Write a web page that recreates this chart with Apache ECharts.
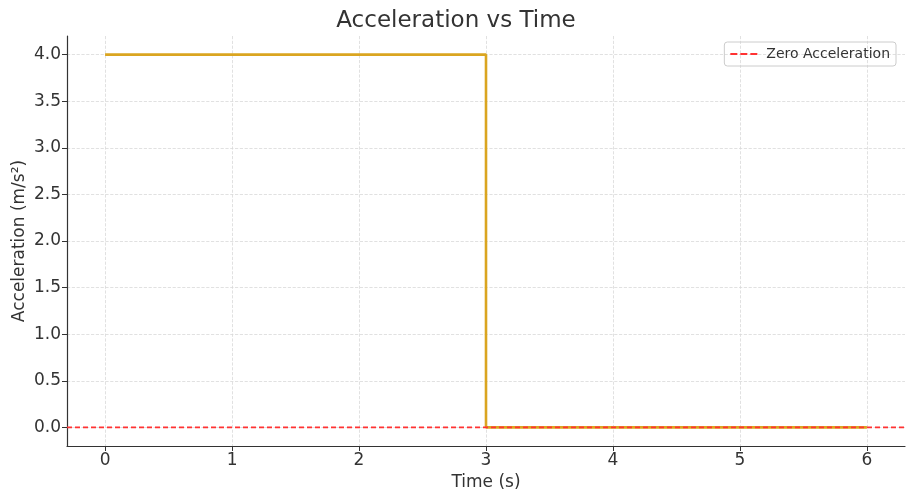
<!DOCTYPE html>
<html><head><meta charset="utf-8">
<script src="https://cdn.jsdelivr.net/npm/echarts@6/dist/echarts.min.js"></script>
<style>html,body{margin:0;padding:0;background:#fff}#c{width:912px;height:493px}</style>
</head><body><div id="c"></div>
<script>
const times = [0, 3, 3, 6];
const accel = [4, 4, 0, 0];
const zeroX = [-0.3, 6.3];
const zeroY = [0, 0];
const xTicks = [0, 1, 2, 3, 4, 5, 6];
const yTicks = [0, 0.5, 1, 1.5, 2, 2.5, 3, 3.5, 4];

const chart = echarts.init(document.getElementById('c'));
const font = 'DejaVu Sans';
chart.setOption({
  animation: false,
  title: {text: 'Acceleration vs Time', left: 'center', top: 5,
    textStyle: {fontFamily: font, fontSize: 23, fontWeight: 'normal', color: '#333'}},
  grid: {left: 67, right: 7, top: 36, bottom: 47, outerBoundsMode: 'none', containLabel: false},
  legend: {
    data: [{name: 'Zero Acceleration',
      icon: 'path://M0,0h7v2h-7z M10,0h7v2h-7z M20,0h7v2h-7z'}],
    right: 16, top: 42, symbolKeepAspect: false,
    orient: 'vertical', borderColor: '#ccc', borderWidth: 1, borderRadius: 3,
    padding: [5, 6, 5, 6], itemWidth: 27, itemHeight: 2, itemGap: 6,
    textStyle: {fontFamily: font, fontSize: 14, color: '#333', padding: [0, 0, 0, 4]}
  },
  xAxis: {
    type: 'value', min: -0.3, max: 6.3, name: 'Time (s)', nameLocation: 'middle', nameGap: 28,
    nameMoveOverlap: false,
    nameTextStyle: {fontFamily: font, fontSize: 17, color: '#333'},
    axisLine: {onZero: false, lineStyle: {color: '#333', width: 1.2}},
    axisTick: {show: true, length: 5, lineStyle: {color: '#333'},
      customValues: xTicks},
    axisLabel: {fontFamily: font, fontSize: 17, color: '#333', margin: 6,
      customValues: xTicks, formatter: v => String(v)},
    splitLine: {show: true, lineStyle: {type: 'dashed', color: '#d9d9d9', width: 0.8}},
    interval: 1
  },
  yAxis: {
    type: 'value', min: -0.2, max: 4.2, name: 'Acceleration (m/s²)', nameLocation: 'middle', nameGap: 39,
    nameMoveOverlap: false,
    nameTextStyle: {fontFamily: font, fontSize: 17, color: '#333'},
    axisLine: {show: true, onZero: false, lineStyle: {color: '#333', width: 1.2}},
    axisTick: {show: true, length: 5, lineStyle: {color: '#333'}, customValues: yTicks},
    axisLabel: {fontFamily: font, fontSize: 17, color: '#333', margin: 6,
      customValues: yTicks, formatter: v => v.toFixed(1)},
    splitLine: {show: true, lineStyle: {type: 'dashed', color: '#d9d9d9', width: 0.8}}
  },
  series: [
    {name: 'Acceleration', type: 'line', data: times.map((t, i) => [t, accel[i]]),
      symbol: 'none', lineStyle: {color: '#DAA520', width: 2.6}, itemStyle: {color: '#DAA520'}, z: 2},
    {name: 'Zero Acceleration', type: 'line', data: zeroX.map((t, i) => [t, zeroY[i]]),
      symbol: 'none', lineStyle: {color: '#ff3333', width: 1.6, type: [5, 3]}, itemStyle: {color: '#ff3333'}, z: 3}
  ]
});
</script></body></html>
